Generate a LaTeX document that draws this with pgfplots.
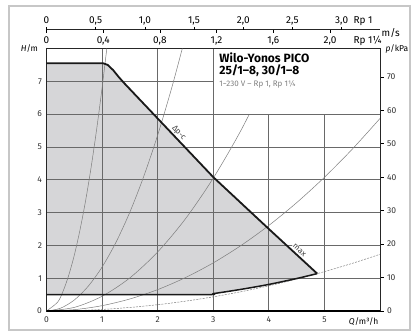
\documentclass[border=0pt]{standalone}
\usepackage{pgfplots}
\pgfplotsset{compat=1.18}
\usepackage{fontspec}
\setmainfont{Fira Sans}
\definecolor{areagray}{RGB}{214,214,216}
\definecolor{gridgray}{RGB}{105,105,105}
\definecolor{syscurve}{RGB}{125,125,125}
\begin{document}
\begin{tikzpicture}
\pgfplotsset{
  every axis/.append style={scale only axis, width=333.5pt, height=262.5pt,
    /pgf/number format/assume math mode=true,
    tick label style={font=\fontsize{8.5}{10}\selectfont, text=black!80}},
}
% main diagram: delivery head H over flow Q
\begin{axis}[name=main, set layers,
  xmin=0, xmax=6, ymin=0, ymax=8,
  xtick={0,1,2,3,4,5}, ytick={0,1,2,3,4,5,6,7},
  grid=major, major grid style={gridgray, line width=0.8pt},
  major tick length=0pt,
  axis line style={black!85, line width=0.8pt},
  xticklabel style={yshift=-2pt},
  yticklabel style={xshift=-1pt},
  xlabel={\textit{Q}/m³/h}, ylabel={\textit{H}/m},
  xlabel style={at={(axis description cs:1,0)}, anchor=north east,
    yshift=-3.5pt, xshift=2pt, font=\fontsize{8.5}{10}\selectfont},
  every axis y label/.style={at={(axis description cs:0,1)}, anchor=east,
    xshift=-5pt, font=\fontsize{8.5}{10}\selectfont},
]
% operating range
\addplot[draw=none, fill=areagray, on layer=axis background] coordinates {
  (0,0.5) (0,7.55) (1.02,7.55) (1.1,7.5) (1.2,7.34) (1.3,7.13) (1.4,6.94)
  (3.0,4.08) (4.0,2.5) (4.87,1.14)
  (4.5,0.99) (4.0,0.81) (3.5,0.66) (3.0,0.53) (2.8,0.5) (0,0.5)};

% system curves
\addplot[syscurve, line width=0.5pt, smooth] coordinates {
  (0,0) (0.2,0.27) (0.3,0.61) (0.4,1.09) (0.5,1.7) (0.6,2.45) (0.7,3.33)
  (0.8,4.35) (0.9,5.51) (1.0,6.8) (1.085,8.0)};
\addplot[syscurve, line width=0.5pt, smooth] coordinates {
  (0,0) (0.25,0.084) (0.5,0.335) (0.75,0.754) (1.0,1.34) (1.25,2.094)
  (1.5,3.015) (1.75,4.104) (2.0,5.36) (2.25,6.784) (2.443,8.0)};
\addplot[syscurve, line width=0.5pt, smooth] coordinates {
  (0,0) (0.5,0.11) (1.0,0.45) (1.5,1.01) (2.0,1.8) (2.5,2.81) (3.0,4.05)
  (3.5,5.51) (4.0,7.2) (4.2,7.94)};
\addplot[syscurve, line width=0.5pt, smooth] coordinates {
  (0,0) (0.5,0.041) (1,0.163) (1.5,0.367) (2,0.652) (2.5,1.019) (3,1.467)
  (3.5,1.997) (4,2.608) (4.5,3.301) (5,4.075) (5.5,4.931) (6,5.868)};
\addplot[syscurve, line width=0.5pt, smooth, dash pattern=on 2pt off 1.2pt] coordinates {
  (0,0) (0.5,0.012) (1,0.048) (1.5,0.108) (2,0.192) (2.5,0.3) (3,0.432)
  (3.5,0.588) (4,0.768) (4.5,0.972) (5,1.2) (5.5,1.452) (6,1.728)};

% max / dp-c characteristic and minimum line
\addplot[black!90, line width=1.8pt, line join=round] coordinates {
  (0,7.55) (1.02,7.55) (1.1,7.5) (1.2,7.34) (1.3,7.13) (1.4,6.94)
  (3.0,4.08) (4.0,2.5) (4.87,1.14)};
\addplot[black!90, line width=1.5pt, line join=round, smooth] coordinates {
  (0,0.5) (2.8,0.5) (3.0,0.53) (3.5,0.66) (4.0,0.81) (4.5,0.99) (4.87,1.14)};

\draw[black, line width=1.4pt] (axis cs:0,0) -- (axis cs:6,0);

% type box
\fill[white] (axis cs:3,6) rectangle (axis cs:6,8);
\draw[gridgray, line width=0.8pt] (axis cs:3,8) -- (axis cs:3,6) -- (axis cs:6,6);
\node[anchor=north west, align=left, inner sep=0pt, xshift=6pt, yshift=-4pt]
  at (axis cs:3,8) {\fontsize{12}{16}\selectfont\bfseries Wilo-Yonos PICO\\
  \fontsize{12}{14.5}\selectfont\bfseries 25/1–8, 30/1–8\\
  {\fontsize{8}{11}\selectfont\color{black!50}1\textasciitilde 230 V – Rp 1, Rp 1¼}};

\node[rotate=-47, font=\fontsize{8}{9}\selectfont, text=black!75] at (axis cs:2.38,5.42) {Δp-c};
\node[rotate=-43, fill=white, inner sep=0.6pt, font=\fontsize{8}{9}\selectfont, text=black!75] at (axis cs:4.55,1.86) {max};
\end{axis}

% pressure scale on the right
\begin{axis}[at={(main.south west)}, anchor=south west,
  xmin=0, xmax=6, ymin=0, ymax=78.48,
  hide x axis, axis y line*=right,
  ytick={0,10,20,30,40,50,60,70}, tick align=outside, major tick length=3.5pt,
  tick style={black, line width=0.6pt},
  axis line style={black!85, line width=0.8pt},
  ylabel={\textit{p}/kPa},
  every axis y label/.style={at={(axis description cs:1,1)}, anchor=west,
    xshift=2pt, font=\fontsize{8.5}{10}\selectfont},
]
\addplot[draw=none] coordinates {(0,0) (6,78.48)};
\end{axis}

% flow velocity scale: Rp 1 above the line, Rp 1 1/4 below it
\begin{axis}[at={(main.north west)}, anchor=south west, yshift=19pt, height=10pt,
  xmin=0, xmax=6, ymin=0, ymax=1, hide y axis, axis x line*=bottom,
  xtick=\empty, clip=false,
  axis line style={black!85, line width=1pt},
  every node/.append style={font=\fontsize{8.5}{10}\selectfont, text=black!80},
]
\addplot[draw=none] coordinates {(0,0) (6,1)};
\pgfplotsinvokeforeach{0,0.885,1.77,2.655,3.54,4.425,5.31}{
  \draw[black, line width=0.6pt] (axis cs:#1,0) -- ++(0,3pt);}
\pgfplotsinvokeforeach{0,1.02,2.04,3.06,4.08,5.1}{
  \draw[black, line width=0.6pt] (axis cs:#1,0) -- ++(0,-3pt);}
\path (axis cs:0,0) node[anchor=base, yshift=6.5pt] {0}
  (axis cs:0.885,0) node[anchor=base, yshift=6.5pt] {0,5}
  (axis cs:1.77,0) node[anchor=base, yshift=6.5pt] {1,0}
  (axis cs:2.655,0) node[anchor=base, yshift=6.5pt] {1,5}
  (axis cs:3.54,0) node[anchor=base, yshift=6.5pt] {2,0}
  (axis cs:4.425,0) node[anchor=base, yshift=6.5pt] {2,5}
  (axis cs:5.31,0) node[anchor=base, yshift=6.5pt] {3,0}
  (axis cs:5.52,0) node[anchor=base west, inner sep=0pt, yshift=6.5pt] {Rp 1};
\path (axis cs:0,0) node[anchor=base, yshift=-13.5pt] {0}
  (axis cs:1.02,0) node[anchor=base, yshift=-13.5pt] {0,4}
  (axis cs:2.04,0) node[anchor=base, yshift=-13.5pt] {0,8}
  (axis cs:3.06,0) node[anchor=base, yshift=-13.5pt] {1,2}
  (axis cs:4.08,0) node[anchor=base, yshift=-13.5pt] {1,6}
  (axis cs:5.1,0) node[anchor=base, yshift=-13.5pt] {2,0}
  (axis cs:5.52,0) node[anchor=base west, inner sep=0pt, yshift=-13.5pt] {Rp 1¼};
\path (axis cs:6,0) node[anchor=base west, inner sep=0pt, xshift=1.5pt, yshift=-7pt] {m/s};
\end{axis}

% outer frame and page size
\draw[black!22, line width=1.6pt] (-37.5pt,-19pt) rectangle (363.5pt,305pt);
\pgfresetboundingbox
\useasboundingbox (-46.5pt,-22pt) rectangle (370.5pt,311pt);
\end{tikzpicture}
\end{document}
